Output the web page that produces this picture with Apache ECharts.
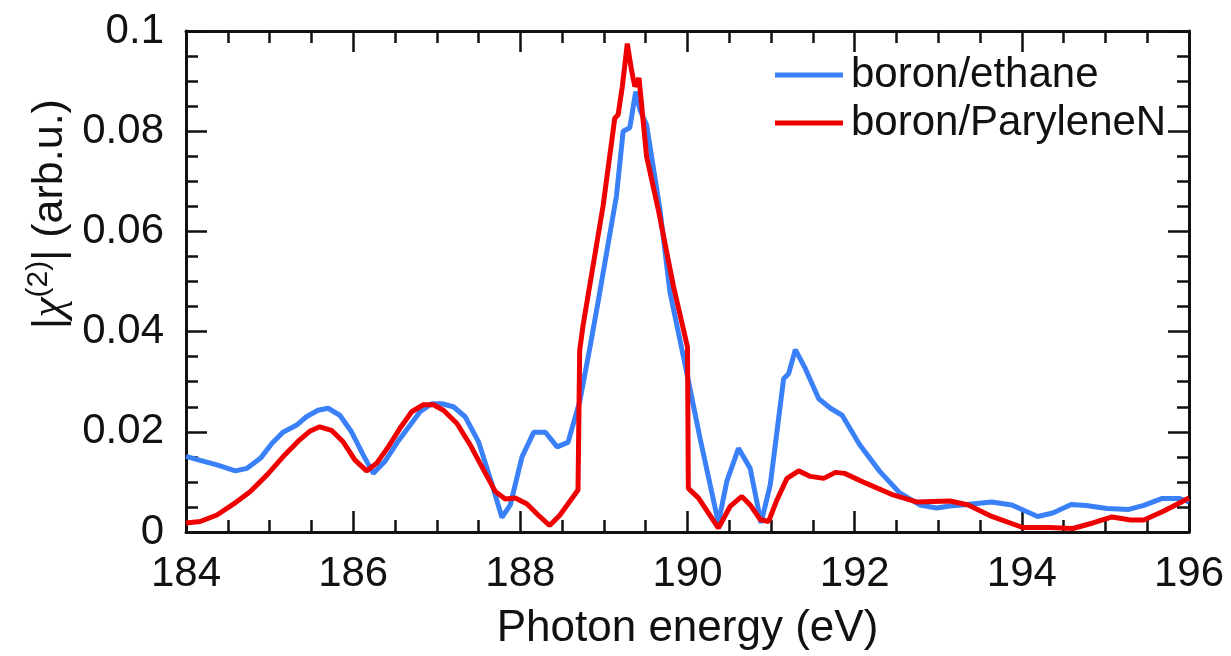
<!DOCTYPE html>
<html>
<head>
<meta charset="utf-8">
<script src="https://cdn.jsdelivr.net/npm/echarts@6/dist/echarts.min.js"></script>
<style>
html,body{margin:0;padding:0;background:#fff;}
#chart{width:1231px;height:656px;}
</style>
</head>
<body>
<div id="chart"></div>
<script>
// ---- data ----
const seriesNames = ['boron/ethane', 'boron/ParyleneN'];
const ethaneE = [184.00,184.17,184.37,184.59,184.73,184.89,185.03,185.16,185.32,185.44,185.58,185.70,185.84,185.98,186.12,186.24,186.38,186.52,186.68,186.80,186.94,187.06,187.20,187.34,187.50,187.64,187.78,187.88,188.02,188.16,188.30,188.44,188.57,188.71,188.83,188.93,189.15,189.23,189.31,189.38,189.43,189.51,189.67,189.79,189.99,190.15,190.37,190.47,190.61,190.75,190.88,190.99,191.15,191.21,191.29,191.41,191.57,191.71,191.85,192.06,192.30,192.54,192.78,192.98,193.14,193.28,193.64,193.88,194.19,194.37,194.59,194.77,195.02,195.28,195.46,195.68,195.88,196.00];
const ethaneV = [0.0151,0.0143,0.0134,0.0122,0.0127,0.0147,0.0177,0.0199,0.0213,0.0230,0.0243,0.0247,0.0233,0.0200,0.0154,0.0117,0.0141,0.0177,0.0213,0.0240,0.0256,0.0256,0.0250,0.0230,0.0180,0.0107,0.0029,0.0054,0.0150,0.0199,0.0199,0.0170,0.0179,0.0260,0.0366,0.0459,0.0671,0.0800,0.0807,0.0879,0.0843,0.0813,0.0644,0.0479,0.0319,0.0187,0.0018,0.0101,0.0167,0.0127,0.0018,0.0094,0.0306,0.0316,0.0364,0.0326,0.0266,0.0247,0.0233,0.0174,0.0121,0.0078,0.0054,0.0048,0.0052,0.0054,0.0060,0.0054,0.0031,0.0038,0.0055,0.0053,0.0047,0.0045,0.0053,0.0067,0.0067,0.0060];
const paryleneE = [184.00,184.17,184.37,184.57,184.77,184.97,185.16,185.36,185.48,185.60,185.74,185.88,186.02,186.16,186.28,186.42,186.56,186.70,186.84,186.96,187.08,187.24,187.40,187.56,187.70,187.82,187.94,188.08,188.22,188.35,188.47,188.69,188.71,188.75,188.99,189.13,189.17,189.22,189.28,189.33,189.37,189.42,189.51,189.65,189.83,190.00,190.01,190.13,190.37,190.51,190.65,190.75,190.87,190.97,191.07,191.19,191.33,191.47,191.63,191.77,191.88,192.14,192.46,192.74,193.14,193.36,193.64,194.01,194.33,194.61,194.85,195.08,195.30,195.46,195.70,196.00];
const paryleneV = [0.0018,0.0021,0.0034,0.0056,0.0081,0.0114,0.0150,0.0184,0.0201,0.0210,0.0203,0.0180,0.0144,0.0122,0.0137,0.0170,0.0207,0.0240,0.0254,0.0254,0.0243,0.0217,0.0174,0.0124,0.0081,0.0066,0.0068,0.0056,0.0033,0.0013,0.0033,0.0084,0.0362,0.0412,0.0651,0.0826,0.0833,0.0889,0.0975,0.0922,0.0889,0.0906,0.0750,0.0644,0.0492,0.0369,0.0087,0.0068,0.0008,0.0051,0.0071,0.0054,0.0025,0.0021,0.0064,0.0107,0.0122,0.0111,0.0107,0.0119,0.0117,0.0097,0.0074,0.0060,0.0062,0.0054,0.0031,0.0009,0.0009,0.0007,0.0018,0.0030,0.0024,0.0024,0.0042,0.0068];
const xMin = 184, xMax = 196, xStep = 2;
const yMin = 0, yMax = 0.1, yStep = 0.02;
const xTitle = 'Photon energy (eV)';
const yTitle = '{n||}{c|χ}{s|(2)}{n|| (arb.u.)}';

const zip = (a, b) => a.map((v, i) => [v, b[i]]);
const FONT = 'Liberation Sans, Arial, sans-serif';
const axisLine = { show: true, onZero: false, lineStyle: { color: '#111', width: 3 } };
const axisTick = { show: true, inside: true, length: 21, lineStyle: { color: '#111', width: 2.5 } };
const minorTick = { show: true, splitNumber: 4, length: 12, lineStyle: { color: '#111', width: 2.5 } };

const chart = echarts.init(document.getElementById('chart'));
chart.setOption({
  backgroundColor: '#fff',
  animation: false,
  grid: { left: 186, right: 42, top: 31, bottom: 122, containLabel: false },
  legend: {
    orient: 'vertical', left: 775, top: 54, padding: 0,
    itemWidth: 68, itemHeight: 5, itemGap: 6, icon: 'rect',
    data: seriesNames,
    textStyle: { fontSize: 42, fontFamily: FONT, color: '#111', lineHeight: 42, padding: [0, 0, 0, 3] }
  },
  graphic: [{
    type: 'text', x: 50, y: 214, rotation: Math.PI / 2, silent: true,
    style: {
      text: yTitle, align: 'center', verticalAlign: 'middle',
      fontSize: 43, fontFamily: FONT, fill: '#111',
      rich: {
        n: { fontSize: 43, fontFamily: FONT, fill: '#111', lineHeight: 52, verticalAlign: 'middle' },
        c: { fontSize: 46, fontFamily: 'Liberation Serif, serif', fontStyle: 'italic', fill: '#111', lineHeight: 52, verticalAlign: 'middle' },
        s: { fontSize: 30, fontFamily: FONT, fill: '#111', lineHeight: 30, verticalAlign: 'top' }
      }
    }
  }],
  xAxis: [
    { type: 'value', min: xMin, max: xMax, interval: xStep, position: 'bottom',
      axisLine, axisTick, minorTick, splitLine: { show: false },
      axisLabel: { show: true, margin: 21, fontSize: 42, fontFamily: FONT, color: '#111', showMinLabel: true, showMaxLabel: true },
      name: xTitle, nameLocation: 'middle', nameGap: 75,
      nameTextStyle: { fontSize: 44, fontFamily: FONT, color: '#111' } },
    { type: 'value', min: xMin, max: xMax, interval: xStep, position: 'top',
      axisLine, axisTick, minorTick, splitLine: { show: false }, axisLabel: { show: false } }
  ],
  yAxis: [
    { type: 'value', min: yMin, max: yMax, interval: yStep, position: 'left',
      axisLine, axisTick, minorTick, splitLine: { show: false },
      axisLabel: { show: true, margin: 22, fontSize: 42, fontFamily: FONT, color: '#111',
        formatter: v => (v === 0 ? '0' : String(+v.toFixed(2))) } },
    { type: 'value', min: yMin, max: yMax, interval: yStep, position: 'right',
      axisLine, axisTick, minorTick, splitLine: { show: false }, axisLabel: { show: false } }
  ],
  series: [
    { name: seriesNames[0], type: 'line', data: zip(ethaneE, ethaneV), showSymbol: false,
      xAxisIndex: 0, yAxisIndex: 0,
      lineStyle: { color: '#3A80F8', width: 5 }, itemStyle: { color: '#3A80F8' } },
    { name: seriesNames[1], type: 'line', data: zip(paryleneE, paryleneV), showSymbol: false,
      xAxisIndex: 0, yAxisIndex: 0,
      lineStyle: { color: '#EE0000', width: 5 }, itemStyle: { color: '#EE0000' } }
  ]
});
</script>
</body>
</html>
